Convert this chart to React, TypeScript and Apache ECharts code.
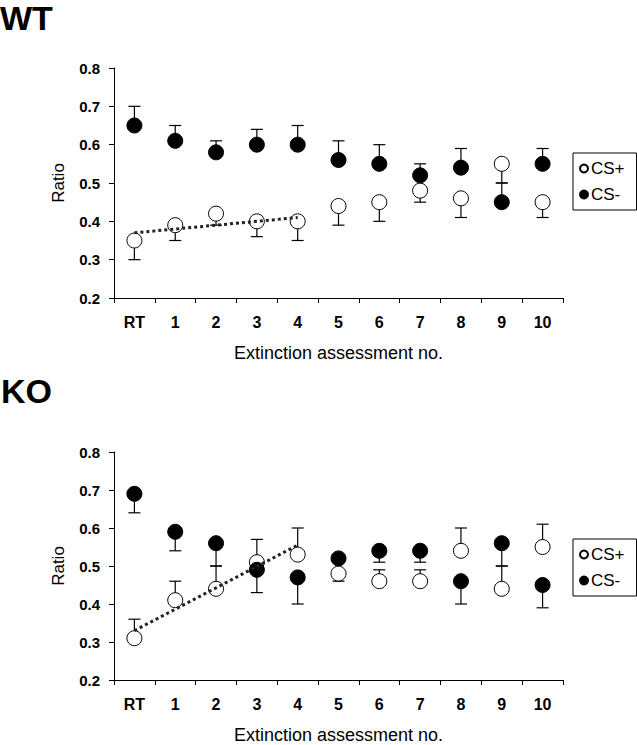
import React, { useEffect, useRef } from "react";
import * as echarts from "echarts";

const categories = ["RT", "1", "2", "3", "4", "5", "6", "7", "8", "9", "10"];

// WT
const wtCsPlus = [0.35, 0.39, 0.42, 0.40, 0.40, 0.44, 0.45, 0.48, 0.46, 0.55, 0.45];
const wtCsPlusErrEnd = [0.30, 0.35, 0.39, 0.36, 0.35, 0.39, 0.40, 0.45, 0.41, 0.50, 0.41];
const wtCsMinus = [0.65, 0.61, 0.58, 0.60, 0.60, 0.56, 0.55, 0.52, 0.54, 0.45, 0.55];
const wtCsMinusErrEnd = [0.70, 0.65, 0.61, 0.64, 0.65, 0.61, 0.60, 0.55, 0.59, 0.50, 0.59];
const wtTrendCats = ["RT", "4"];
const wtTrend = [0.37, 0.41];

// KO
const koCsPlus = [0.31, 0.41, 0.44, 0.51, 0.53, 0.48, 0.46, 0.46, 0.54, 0.44, 0.55];
const koCsPlusErrEnd = [0.36, 0.46, 0.50, 0.57, 0.60, 0.46, 0.49, 0.49, 0.60, 0.50, 0.61];
const koCsMinus = [0.69, 0.59, 0.56, 0.49, 0.47, 0.52, 0.54, 0.54, 0.46, 0.56, 0.45];
const koCsMinusErrEnd = [0.64, 0.54, 0.50, 0.43, 0.40, 0.51, 0.51, 0.51, 0.40, 0.50, 0.39];
const koTrendCats = ["RT", "4"];
const koTrend = [0.33, 0.555];

const yTicks = [0.2, 0.3, 0.4, 0.5, 0.6, 0.7, 0.8];

const FONT = "Liberation Sans, Arial, sans-serif";

function errorSeries(gridIdx: number, vals: number[], ends: number[]) {
  return {
    type: "custom",
    xAxisIndex: gridIdx,
    yAxisIndex: gridIdx,
    z: 1,
    silent: true,
    data: vals.map((v, i) => [i, v, ends[i]]),
    renderItem: (params: any, api: any) => {
      const x = api.value(0);
      const p1 = api.coord([x, api.value(1)]);
      const p2 = api.coord([x, api.value(2)]);
      const hw = 6;
      return {
        type: "group",
        children: [
          {
            type: "line",
            shape: { x1: p1[0], y1: p1[1], x2: p2[0], y2: p2[1] },
            style: { stroke: "#000", lineWidth: 1.2 },
          },
          {
            type: "line",
            shape: { x1: p2[0] - hw, y1: p2[1], x2: p2[0] + hw, y2: p2[1] },
            style: { stroke: "#000", lineWidth: 1.2 },
          },
        ],
      };
    },
  };
}

function scatterSeries(gridIdx: number, name: string, vals: number[], filled: boolean) {
  return {
    type: "scatter",
    name,
    xAxisIndex: gridIdx,
    yAxisIndex: gridIdx,
    z: 3,
    symbol: "circle",
    symbolSize: 15,
    data: vals.map((v, i) => [i, v]),
    itemStyle: filled
      ? { color: "#000", borderColor: "#000", borderWidth: 1, opacity: 1 }
      : { color: "#fff", borderColor: "#000", borderWidth: 1, opacity: 1 },
  };
}

function trendSeries(gridIdx: number, cats: string[], vals: number[]) {
  return {
    type: "line",
    xAxisIndex: gridIdx,
    yAxisIndex: gridIdx,
    z: 5,
    symbol: "none",
    silent: true,
    data: cats.map((c, i) => [categories.indexOf(c), vals[i]]),
    lineStyle: { color: "#222", width: 3, type: [3, 3] },
  };
}

function makeXAxis(gridIdx: number) {
  return {
    type: "category",
    gridIndex: gridIdx,
    data: categories,
    boundaryGap: true,
    axisLine: { lineStyle: { color: "#000", width: 1 } },
    axisTick: { show: true, length: 5, inside: false, lineStyle: { color: "#000" } },
    axisLabel: { color: "#000", fontSize: 16, fontWeight: "bold", fontFamily: FONT, margin: 16 },
    name: "Extinction assessment no.",
    nameLocation: "middle",
    nameGap: 46,
    nameTextStyle: { color: "#000", fontSize: 18, fontFamily: FONT },
    splitLine: { show: false },
  };
}

function makeYAxis(gridIdx: number) {
  return {
    type: "value",
    gridIndex: gridIdx,
    min: yTicks[0],
    max: yTicks[yTicks.length - 1],
    interval: 0.1,
    axisLine: { show: true, lineStyle: { color: "#000", width: 1 } },
    axisTick: { show: true, length: 5, lineStyle: { color: "#000" } },
    axisLabel: {
      color: "#000",
      fontSize: 15,
      fontWeight: "bold",
      fontFamily: FONT,
      margin: 14,
      formatter: (v: number) => v.toFixed(1),
    },
    name: "Ratio",
    nameLocation: "middle",
    nameGap: 47,
    nameRotate: 90,
    nameTextStyle: { color: "#000", fontSize: 17, fontFamily: FONT },
    splitLine: { show: false },
  };
}

function makeLegend(top: number) {
  return {
    orient: "vertical",
    left: 573,
    top,
    data: ["CS+", "CS-"],
    icon: "circle",
    itemWidth: 8,
    itemHeight: 8,
    itemGap: 9,
    padding: [7, 12, 7, 6],
    borderColor: "#000",
    borderWidth: 1,
    textStyle: { color: "#000", fontSize: 17, fontFamily: FONT, padding: [0, 0, 0, -2] },
    selectedMode: false,
  };
}

export default function App() {
  const ref = useRef<HTMLDivElement>(null);
  useEffect(() => {
    if (!ref.current) return;
    const chart = echarts.init(ref.current, null, { renderer: "svg" });
    chart.setOption({
      animation: false,
      backgroundColor: "#fff",
      title: [
        {
          text: "WT",
          left: 0,
          top: 1,
          padding: 0,
          textStyle: { fontSize: 34, fontWeight: "bold", color: "#000", fontFamily: FONT },
        },
        {
          text: "KO",
          left: 1,
          top: 374,
          padding: 0,
          textStyle: { fontSize: 34, fontWeight: "bold", color: "#000", fontFamily: FONT },
        },
      ],
      legend: [makeLegend(153), makeLegend(539)],
      grid: [
        { left: 114, top: 68, width: 449, height: 230 },
        { left: 114, top: 452, width: 449, height: 230 },
      ],
      xAxis: [makeXAxis(0), makeXAxis(1)],
      yAxis: [makeYAxis(0), makeYAxis(1)],
      series: [
        errorSeries(0, wtCsPlus, wtCsPlusErrEnd),
        errorSeries(0, wtCsMinus, wtCsMinusErrEnd),
        scatterSeries(0, "CS+", wtCsPlus, false),
        scatterSeries(0, "CS-", wtCsMinus, true),
        trendSeries(0, wtTrendCats, wtTrend),
        errorSeries(1, koCsPlus, koCsPlusErrEnd),
        errorSeries(1, koCsMinus, koCsMinusErrEnd),
        scatterSeries(1, "CS+", koCsPlus, false),
        scatterSeries(1, "CS-", koCsMinus, true),
        trendSeries(1, koTrendCats, koTrend),
      ],
    });
    return () => chart.dispose();
  }, []);
  return (
    <div
      ref={ref}
      style={{ position: "fixed", left: 0, top: 0, width: 637, height: 745, background: "#fff" }}
    />
  );
}
